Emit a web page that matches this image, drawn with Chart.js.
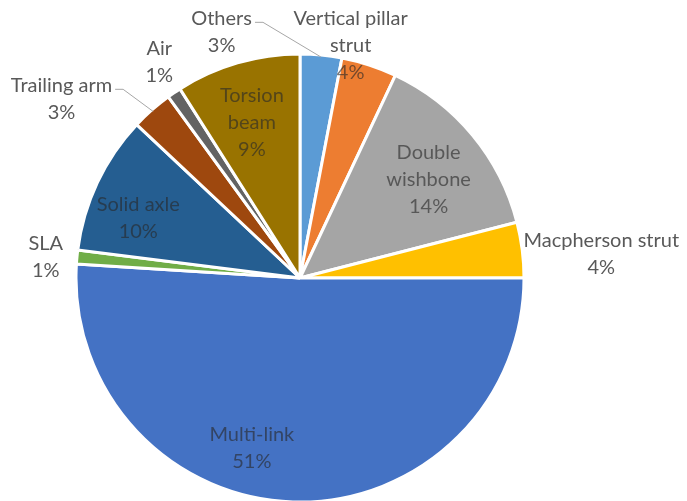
<!DOCTYPE html>
<html>
<head>
<meta charset="utf-8">
<title>Suspension types</title>
<script src="https://cdn.jsdelivr.net/npm/chart.js@4.4.0/dist/chart.umd.min.js"></script>
<style>
    html, body {
        margin: 0;
        padding: 0;
        background: #ffffff;
    }
    #wrap {
        width: 687px;
        height: 501px;
    }
</style>
</head>
<body>
<div id="wrap"><canvas id="suspensionChart" width="687" height="501"></canvas></div>
<script>
/* =========================
   DATA
========================= */

const categories = [
    "Others", "Vertical pillar strut", "Double wishbone", "Macpherson strut",
    "Multi-link", "SLA", "Solid axle", "Trailing arm", "Air", "Torsion beam"
];

// share of each suspension type, %
const shares = [3, 4, 14, 4, 51, 1, 10, 3, 1, 9];

// how each category name wraps on the chart
const wrappedNames = [
    ["Others"], ["Vertical pillar", "strut"], ["Double", "wishbone"], ["Macpherson strut"],
    ["Multi-link"], ["SLA"], ["Solid axle"], ["Trailing arm"], ["Air"], ["Torsion", "beam"]
];

const sliceColors = [
    "#5B9BD5", "#ED7D31", "#A5A5A5", "#FFC000", "#4472C4",
    "#70AD47", "#255E91", "#9E480E", "#636363", "#997300"
];

/* =========================
   LABEL PLACEMENT
========================= */

// label block centre, as offset from pie centre in units of the radius
const labelOffsets = [
    [-0.350, -1.099], [0.226, -1.036], [0.574, -0.439], [1.345, -0.108],
    [-0.215, 0.758], [-1.135, -0.094], [-0.722, -0.267], [-1.065, -0.800],
    [-0.628, -0.964], [-0.215, -0.693]
];

// labels sitting on top of their own slice use a dark translucent ink
const insideLabel = [false, false, true, false, true, false, true, false, false, true];
const leaderLine = [true, false, false, false, false, false, false, true, false, false];

const FONT = "20px Lato";
const LINE_HEIGHT = 27;

const sliceLabels = {
    id: "sliceLabels",

    afterDatasetsDraw(chart) {

        const ctx = chart.ctx;
        const arcs = chart.getDatasetMeta(0).data;

        ctx.save();
        ctx.font = FONT;
        ctx.textAlign = "center";
        ctx.textBaseline = "middle";

        arcs.forEach((arc, i) => {

            const { x, y, outerRadius, startAngle, endAngle } =
                arc.getProps(["x", "y", "outerRadius", "startAngle", "endAngle"], true);

            const lines = wrappedNames[i].concat(shares[i] + "%");
            const bx = x + labelOffsets[i][0] * outerRadius;
            const by = y + labelOffsets[i][1] * outerRadius;
            const top = by - (lines.length - 1) * LINE_HEIGHT / 2;

            // the "Vertical pillar strut" percentage falls inside the orange slice
            lines.forEach((line, k) => {
                const onSlice = insideLabel[i] || (i === 1 && k === lines.length - 1);
                ctx.fillStyle = onSlice ? "rgba(40, 40, 40, 0.62)" : "#595959";
                ctx.fillText(line, bx, top + k * LINE_HEIGHT);
            });

            if (leaderLine[i]) {
                const w = ctx.measureText(lines[0]).width;
                const sx = bx + w / 2 + 3;
                const sy = top + 4;
                const mid = (startAngle + endAngle) / 2;
                const ex = x + Math.cos(mid) * (outerRadius - 2);
                const ey = y + Math.sin(mid) * (outerRadius - 2);

                ctx.strokeStyle = "#A6A6A6";
                ctx.lineWidth = 1;
                ctx.beginPath();
                ctx.moveTo(sx, sy);
                ctx.lineTo(sx + 8, sy);
                ctx.lineTo(ex, ey);
                ctx.stroke();
            }
        });

        ctx.restore();
    }
};

/* =========================
   PIE CHART
========================= */

new Chart(document.getElementById("suspensionChart"), {

    type: "pie",

    data: {
        labels: categories,
        datasets: [{
            data: shares,
            backgroundColor: sliceColors,
            borderColor: "#ffffff",
            borderWidth: 3,
            radius: 224
        }]
    },

    options: {
        responsive: false,
        animation: false,
        layout: {
            padding: { left: 77, right: 164, top: 55, bottom: 0 }
        },
        plugins: {
            legend: { display: false },
            tooltip: { enabled: false }
        }
    },

    plugins: [sliceLabels]
});
</script>
</body>
</html>
